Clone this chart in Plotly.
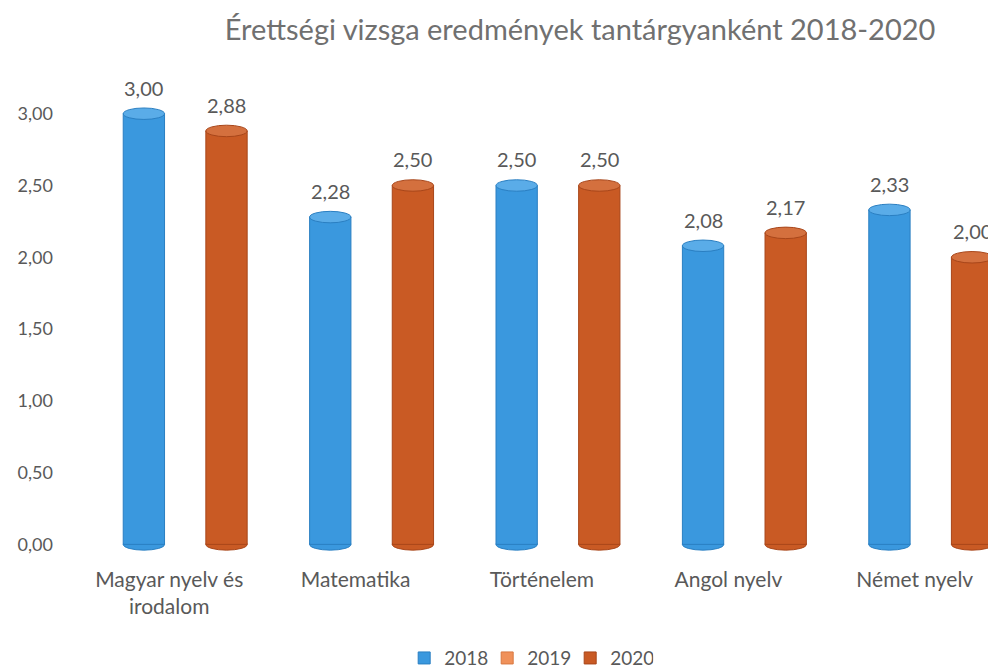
import plotly.graph_objects as go

categories = ["Magyar nyelv és<br>irodalom", "Matematika", "Történelem", "Angol nyelv", "Német nyelv"]
series_names = ["2018", "2019", "2020"]
values_2018 = [3.00, 2.28, 2.50, 2.08, 2.33]
values_2019 = [None, None, None, None, None]
values_2020 = [2.88, 2.50, 2.50, 2.17, 2.00]
y_ticks = [0, 0.5, 1.0, 1.5, 2.0, 2.5, 3.0]

colors = ["#3A98DE", "#F0915A", "#C95A24"]
cap_colors = ["#5AACE8", "#F5AA7C", "#D4703E"]
edge_colors = ["#2A7FC2", "#D87840", "#A8461A"]
text_color = "#595959"
font_family = "Lato, 'Open Sans', sans-serif"

series = [values_2018, values_2019, values_2020]
bargap = 0.335
slot = (1 - bargap) / len(series)

fig = go.Figure()
for name, vals, col, ecol in zip(series_names, series, colors, edge_colors):
    fig.add_trace(go.Bar(
        name=name, x=categories, y=vals,
        marker=dict(color=col, line=dict(color=ecol, width=1)),
        hoverinfo="skip",
    ))

shapes = []
annotations = []
cap_h = 0.04
for si, vals in enumerate(series):
    off = (si - (len(series) - 1) / 2) * slot
    for ci, v in enumerate(vals):
        if v is None:
            continue
        cx = ci + off
        x0, x1 = cx - slot / 2, cx + slot / 2
        # bottom rounded end
        shapes.append(dict(type="circle", xref="x", yref="y", x0=x0, x1=x1,
                           y0=-cap_h, y1=cap_h, fillcolor=colors[si],
                           line=dict(color=edge_colors[si], width=1), layer="below"))
        # top cap
        shapes.append(dict(type="circle", xref="x", yref="y", x0=x0, x1=x1,
                           y0=v - cap_h, y1=v + cap_h, fillcolor=cap_colors[si],
                           line=dict(color=edge_colors[si], width=1), layer="above"))
        annotations.append(dict(x=cx, y=v, xref="x", yref="y",
                                text=f"{v:.2f}".replace(".", ","),
                                showarrow=False, yanchor="bottom", yshift=12,
                                font=dict(size=20, color=text_color, family=font_family)))

fig.update_layout(
    width=988, height=660,
    paper_bgcolor="white", plot_bgcolor="white",
    barmode="group", bargap=bargap, bargroupgap=0,
    separators=", ",
    margin=dict(l=84, r=0, t=77, b=115),
    title=dict(text="Érettségi vizsga eredmények tantárgyanként 2018-2020",
               x=0.579, xref="container", xanchor="center",
               y=0.967, yref="container", yanchor="middle",
               font=dict(size=29, color="#707070", family=font_family)),
    font=dict(family=font_family, color=text_color, size=18),
    shapes=shapes,
    annotations=annotations,
    legend=dict(orientation="h", xref="container", x=0.527, xanchor="center",
                yref="container", y=0.015, yanchor="middle",
                font=dict(size=19, color=text_color, family=font_family),
                itemwidth=30, entrywidth=38, entrywidthmode="pixels",
                traceorder="normal"),
    xaxis=dict(range=[-0.5, 4.35], showgrid=False, showline=False, zeroline=False,
               ticks="", ticklabelshift=-16, ticklabelstandoff=12, automargin=False,
               tickfont=dict(size=21, color=text_color, family=font_family)),
    yaxis=dict(range=[-0.06, 3.2], tickvals=y_ticks, tickformat=".2f",
               showgrid=False, showline=False, zeroline=False, ticks="",
               ticklabelstandoff=38, automargin=False,
               tickfont=dict(size=18, color=text_color, family=font_family)),
)

fig.write_html("out.html")
